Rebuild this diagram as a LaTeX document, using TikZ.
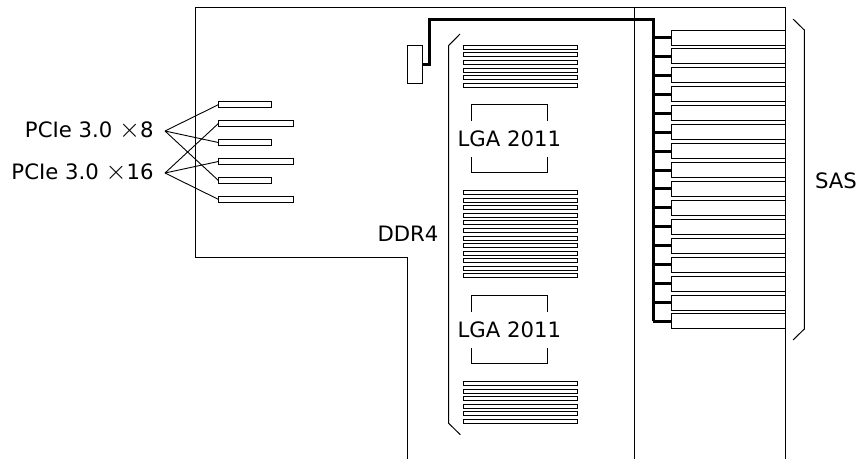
\documentclass[tikz,border=0pt]{standalone}
\usepackage{xcolor}
\usepackage{graphicx}
\usepackage{fontspec}
\setmainfont{DejaVu Sans}
\usepackage{tikz}
\usetikzlibrary{positioning}
\newcommand{\lanes}{\scalebox{1.3}{$\times$}}

\begin{document}
\begin{tikzpicture}[
    x=1pt, y=-1pt,
    line width=1pt,
    lbl/.style={font=\fontsize{21.2}{24}\selectfont, inner sep=0pt},
    slot/.style={draw, fill=white, inner sep=0pt, outer sep=0pt},
    pcishort/.style={slot, minimum width=53pt, minimum height=5.5pt},
    pcilong/.style={slot, minimum width=75.5pt, minimum height=5.5pt},
    dimm/.style={slot, minimum width=114pt, minimum height=4pt},
    sasslot/.style={slot, minimum width=113.5pt, minimum height=15pt},
    socket/.style={slot, minimum width=76pt, minimum height=68.3pt},
    socklbl/.style={lbl, fill=white, minimum height=36.5pt},
    bus/.style={line width=3pt},
    wire/.style={line width=0.9pt}]
    \useasboundingbox (0,0) rectangle (858,459);
    % board outline
    \draw (407.5,459) |- (195.5,257.5) |- (785.5,7.5) -- (785.5,459);
    \draw (634.5,7.5) -- (634.5,459);
    % drive bays
    \foreach \i in {1,...,16}
      \node[sasslot] (sas\i) at (728.5,{37.5+(\i-1)*18.93}) {};
    % memory
    \foreach \i in {1,...,6} {
      \node[dimm] (dimma\i) at (520.7,{47.3+(\i-1)*7.57}) {};
      \node[dimm] (dimmc\i) at (520.7,{383.7+(\i-1)*7.57}) {};
    }
    \foreach \i in {1,...,12}
      \node[dimm] (dimmb\i) at (520.7,{192.7+(\i-1)*7.57}) {};
    % sockets
    \node[socket] (cpua) at (509.3,138.8) {};
    \node[socket] (cpub) at (509.3,329.8) {};
    \node[socklbl] at (cpua) {LGA 2011};
    \node[socklbl] at (cpub) {LGA 2011};
    % pcie
    \node[pcishort] (pcia) at (244.8,104.7) {};
    \node[pcilong] (pcib) at (256,123.6) {};
    \node[pcishort] (pcic) at (244.8,142.5) {};
    \node[pcilong] (pcid) at (256,161.5) {};
    \node[pcishort] (pcie) at (244.8,180.4) {};
    \node[pcilong] (pcif) at (256,199.3) {};
    \node[lbl, anchor=east] (eight) at (154,131) {PCIe 3.0 \lanes8};
    \node[lbl, anchor=east] (sixteen) at (154,173) {PCIe 3.0 \lanes16};
    \coordinate (eightfan) at (165,131);
    \coordinate (sixteenfan) at (165,173);
    \foreach \s in {pcia,pcic,pcie}
      \draw[wire] (eightfan) -- (\s.west);
    \foreach \s in {pcib,pcid,pcif}
      \draw[wire] (sixteenfan) -- (\s.west);
    % controller and bus
    \node[slot, minimum width=15pt, minimum height=38pt] (hba) at (415,64.3) {};
    \coordinate (busturn) at (429.5,19);
    \coordinate (bustop) at (653,19);
    \draw[bus] (hba.east) -| (busturn) -- (bustop) -- (bustop |- sas16.west);
    \foreach \i in {1,...,16}
      \draw[bus] (sas\i.west) -- (sas\i.west -| bustop);
    % brackets
    \draw (460,34) -- (448.7,45.5) -- (448.7,423.3) -- (460.3,434.7);
    \draw (793,19) -- (804.3,30) -- (804.3,329) -- (793,340);
    \node[lbl] (ddr) at (408,233.5) {DDR4};
    \node[lbl] (sas) at (836,181) {SAS};
  \end{tikzpicture}
\end{document}
